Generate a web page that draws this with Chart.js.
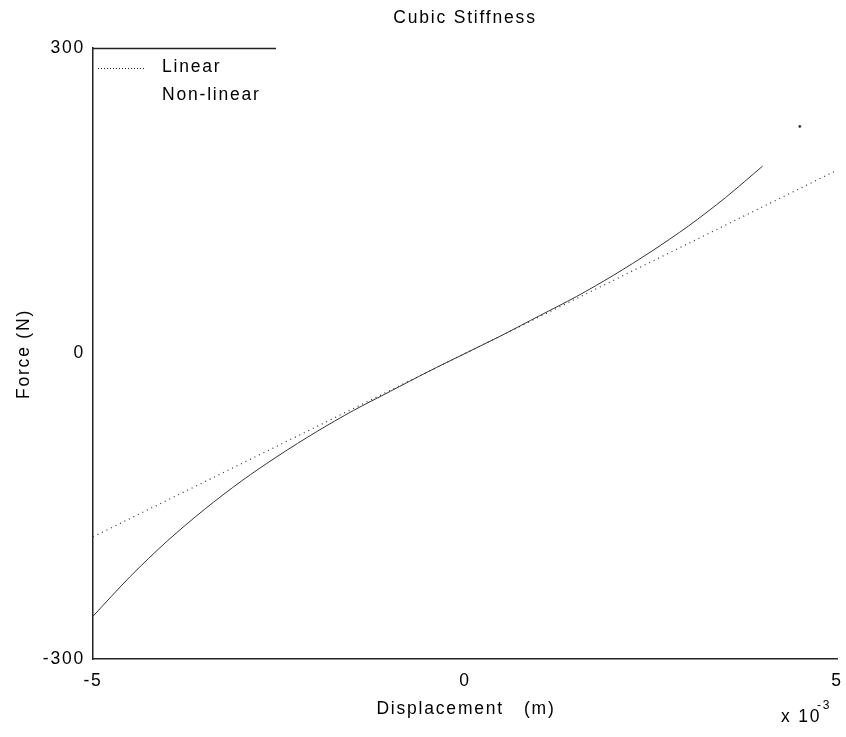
<!DOCTYPE html>
<html lang="en">
<head>
    <meta charset="UTF-8">
    <title>Cubic Stiffness</title>
    <script src="https://cdn.jsdelivr.net/npm/chart.js"></script>
    <style>
        body { margin: 0; background: #fff; }
        #wrap { width: 846px; height: 737px; }
    </style>
</head>
<body>
    <div id="wrap"><canvas id="myChart" width="846" height="737"></canvas></div>
    <script>
        // displacement in mm (axis shows x 10^-3 m)
        const dispLinear = [-5, -4.5, -4, -3.5, -3, -2.5, -2, -1.5, -1, -0.5, 0, 0.5, 1, 1.5, 2, 2.5, 3, 3.5, 4, 4.5, 5];
        const forceLinear = [-180, -162, -144, -126, -108, -90, -72, -54, -36, -18, 0, 18, 36, 54, 72, 90, 108, 126, 144, 162, 180];

        const dispNonLinear = [-5, -4.5, -4, -3.5, -3, -2.5, -2, -1.5, -1, -0.5, 0, 0.5, 1, 1.5, 2, 2.5, 3, 3.5, 4, 4.25, 4.5];
        const forceNonLinear = [-258, -219, -184, -153, -125, -100, -77, -56, -37, -18, 0, 18, 37, 56, 77, 100, 125, 153, 184, null, 223];

        const xTicks = [-5, 0, 5];
        const yTicks = [-300, 0, 300];

        const FONT = '"Liberation Sans", Arial, sans-serif';
        const SIZE = 17.5;
        const SPACING = '1.8px';

        const pairs = (xs, ys) => xs.map((x, i) => ({ x: x, y: ys[i] }));

        // wide letter spacing like the old bitmap font
        const spacing = {
            id: 'spacing',
            beforeLayout(chart) { chart.ctx.letterSpacing = SPACING; },
            beforeDraw(chart) { chart.ctx.letterSpacing = SPACING; }
        };

        // titles, legend and the "x 10^-3" note
        const extras = {
            id: 'extras',
            afterDraw(chart) {
                const c = chart.ctx;
                const a = chart.chartArea;
                c.save();
                c.letterSpacing = SPACING;
                c.fillStyle = '#000';
                c.font = SIZE + 'px ' + FONT;
                c.textAlign = 'center';
                c.textBaseline = 'middle';
                c.fillText('Cubic Stiffness', 465, 18);
                c.fillText('Displacement   (m)', 466, 709);

                c.save();
                c.translate(24, 354);
                c.rotate(-Math.PI / 2);
                c.fillText('Force (N)', 0, 0);
                c.restore();

                c.textAlign = 'left';
                c.fillText('x 10', 781, 717);
                c.font = '12px ' + FONT;
                c.fillText('-3', 817, 706);

                // legend box top edge
                c.strokeStyle = '#222';
                c.lineWidth = 1.5;
                c.beginPath();
                c.moveTo(a.left, a.top + 0.5);
                c.lineTo(276, a.top + 0.5);
                c.stroke();

                // legend entries
                c.lineWidth = 1;
                c.setLineDash([1, 2]);
                c.beginPath();
                c.moveTo(98, 68.5);
                c.lineTo(146, 68.5);
                c.stroke();
                c.setLineDash([]);
                c.font = SIZE + 'px ' + FONT;
                c.fillText('Linear', 162, 67);
                c.fillText('Non-linear', 162, 95);
                c.restore();
            }
        };

        const ctx = document.getElementById('myChart').getContext('2d');
        const myChart = new Chart(ctx, {
            type: 'line',
            data: {
                datasets: [{
                    label: 'Linear',
                    data: pairs(dispLinear, forceLinear),
                    borderColor: '#333',
                    borderWidth: 1.2,
                    borderDash: [1, 4],
                    pointRadius: 0,
                    tension: 0
                }, {
                    label: 'Non-linear',
                    data: pairs(dispNonLinear, forceNonLinear),
                    borderColor: '#333',
                    borderWidth: 1,
                    backgroundColor: '#333',
                    pointRadius: (c) => c.dataIndex === dispNonLinear.length - 1 ? 1 : 0,
                    spanGaps: false,
                    tension: 0.3
                }]
            },
            options: {
                responsive: false,
                animation: false,
                layout: { padding: { top: 48, right: 9, left: 0, bottom: 0 } },
                scales: {
                    x: {
                        type: 'linear',
                        min: -5,
                        max: 5,
                        afterBuildTicks: (s) => { s.ticks = xTicks.map(v => ({ value: v })); },
                        afterFit: (s) => { s.height = 78; s.paddingLeft = 0; s.paddingRight = 0; },
                        grid: { display: false, drawTicks: false },
                        border: { display: true, color: '#222', width: 1.5 },
                        ticks: { color: '#000', padding: 12, font: { size: SIZE, family: FONT } }
                    },
                    y: {
                        min: -300,
                        max: 300,
                        afterBuildTicks: (s) => { s.ticks = yTicks.map(v => ({ value: v })); },
                        afterFit: (s) => { s.width = 93; },
                        grid: { display: false, drawTicks: false },
                        border: { display: true, color: '#222', width: 1.5 },
                        ticks: { color: '#000', padding: 8, font: { size: SIZE, family: FONT } }
                    }
                },
                plugins: {
                    legend: { display: false },
                    tooltip: { enabled: false }
                }
            },
            plugins: [spacing, extras]
        });
    </script>
</body>
</html>
